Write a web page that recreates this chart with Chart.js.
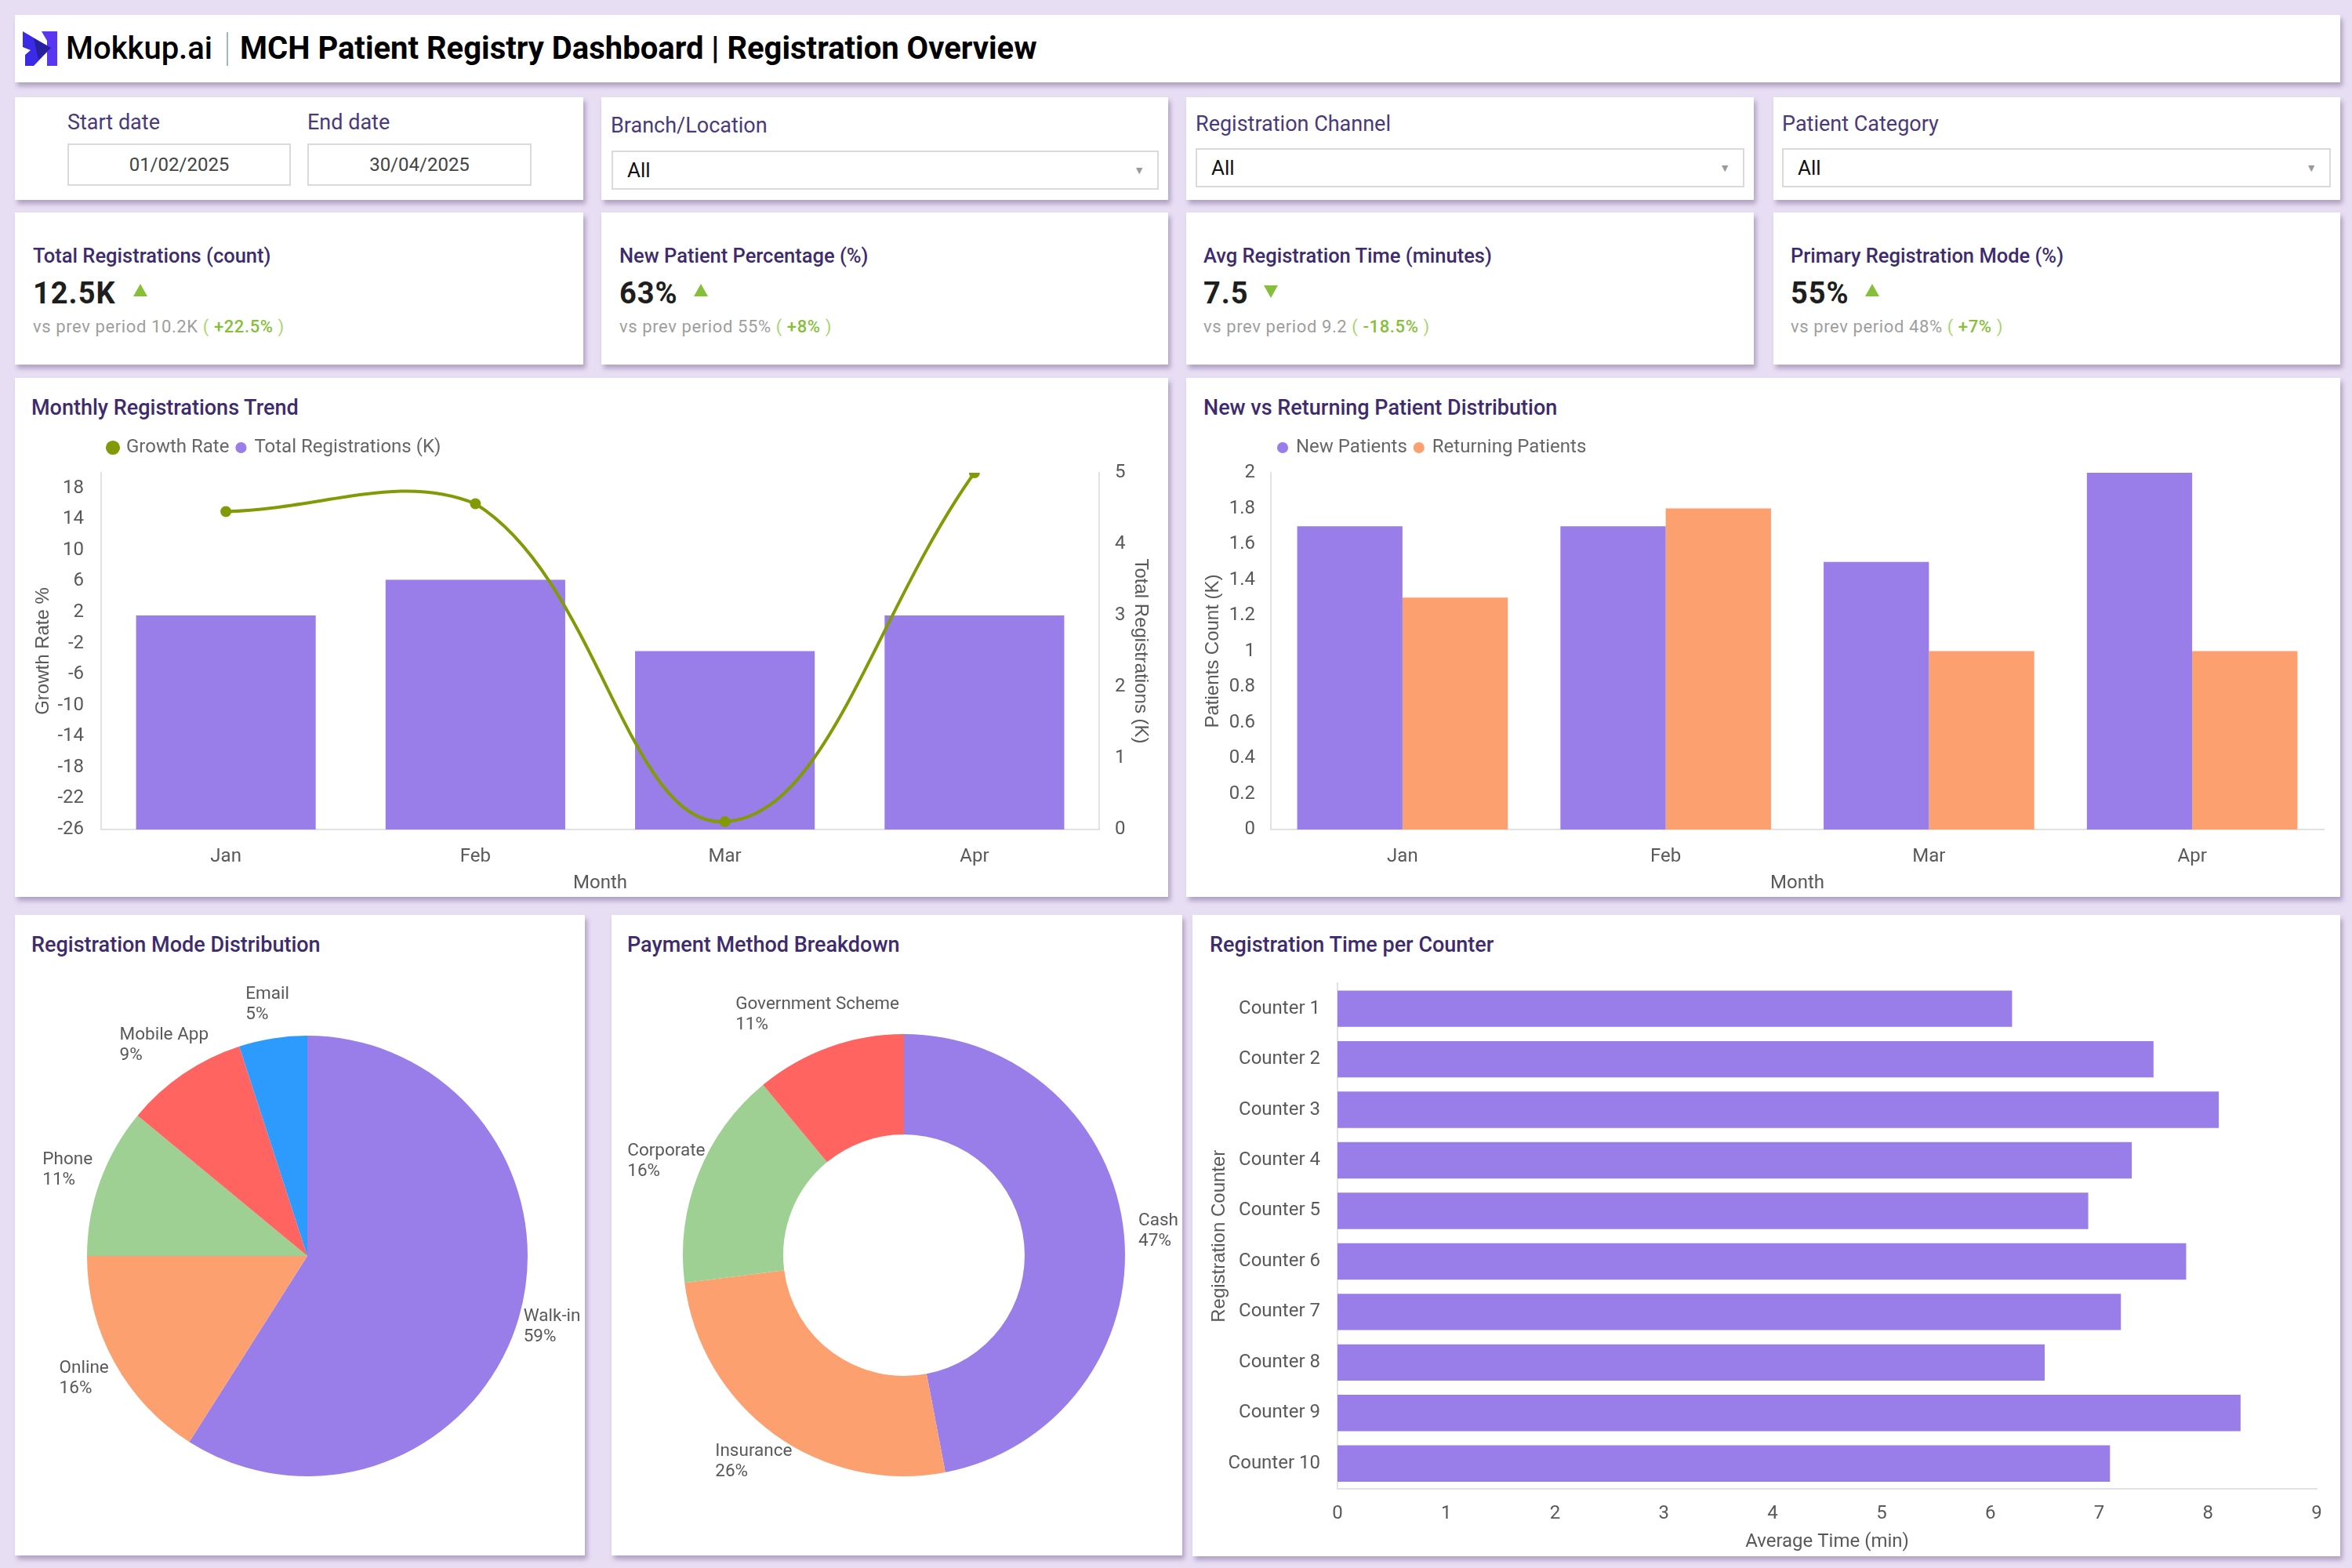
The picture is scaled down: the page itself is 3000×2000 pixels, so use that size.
<!DOCTYPE html>
<html>
<head>
<meta charset="utf-8">
<script src="https://cdn.jsdelivr.net/npm/chart.js@4.4.1/dist/chart.umd.min.js"></script>
<style>
  body { margin: 0; width: 3000px; height: 2000px; background: #E8DEF4; font-family: Roboto, sans-serif; position: relative; overflow: hidden; }
  .card { position: absolute; background: #fff; box-shadow: 3px 5px 6px rgba(70, 50, 100, 0.35); }
  .t { position: absolute; white-space: nowrap; line-height: 1.2; }
  .ttl { color: #3E2B6E; font-weight: 500; font-size: 27px; }
  .lbl { color: #4A3A7C; font-size: 27px; }
  .box { position: absolute; border: 2px solid #DADADA; box-sizing: border-box; background: #fff; }
  .date { color: #444; font-size: 24px; text-align: center; line-height: 50px; }
  .sel { color: #111; font-size: 26px; line-height: 46px; padding-left: 18px; }
  .caret { position: absolute; right: 16px; top: 0; color: #999; font-size: 14px; }
  .kttl { color: #3E2B6E; font-weight: 500; font-size: 25.5px; }
  .kval { color: #1E1E1E; font-weight: 700; font-size: 38px; letter-spacing: 1px; }
  .ksub { color: #9E9E9E; font-size: 22px; letter-spacing: 0.6px; }
  .ksub b { color: #86BF3A; font-weight: 500; }
  .ksub i { color: #A9D46E; font-style: normal; }
  canvas { position: absolute; }
</style>
</head>
<body>

<!-- header -->
<div class="card" style="left:19px;top:19px;width:2966px;height:86px;"></div>
<svg style="position:absolute;left:29px;top:40px;" width="46" height="44" viewBox="0 0 46 44">
  <polygon points="24,0 44,0 44,44 31,44 31,12" fill="#5B36F2"/>
  <polygon points="0,0 36,21 14,44 3,44 3,30 10,24 0,20" fill="#3B2AE6"/>
  <polygon points="14,9 36,21 20,36" fill="#27209E"/>
</svg>
<div class="t" style="left:84px;top:38px;font-size:40px;font-weight:500;color:#000;">Mokkup.ai</div>
<div style="position:absolute;left:289px;top:41px;width:2px;height:43px;background:#9FB8BE;"></div>
<div class="t" style="left:306px;top:38px;font-size:40px;font-weight:700;color:#000;">MCH Patient Registry Dashboard | Registration Overview</div>

<!-- filters -->
<div class="card" style="left:19px;top:124px;width:725px;height:131px;"></div>
<div class="t lbl" style="left:86px;top:140px;">Start date</div>
<div class="t lbl" style="left:392px;top:140px;">End date</div>
<div class="box date" style="left:86px;top:183px;width:285px;height:54px;">01/02/2025</div>
<div class="box date" style="left:392px;top:183px;width:286px;height:54px;">30/04/2025</div>

<div class="card" style="left:767px;top:124px;width:723px;height:131px;"></div>
<div class="t lbl" style="left:779px;top:144px;">Branch/Location</div>
<div class="box sel" style="left:780px;top:192px;width:698px;height:50px;">All<span class="caret">&#9660;</span></div>

<div class="card" style="left:1513px;top:124px;width:724px;height:131px;"></div>
<div class="t lbl" style="left:1525px;top:142px;">Registration Channel</div>
<div class="box sel" style="left:1525px;top:189px;width:700px;height:50px;">All<span class="caret">&#9660;</span></div>

<div class="card" style="left:2262px;top:124px;width:723px;height:131px;"></div>
<div class="t lbl" style="left:2273px;top:142px;">Patient Category</div>
<div class="box sel" style="left:2273px;top:189px;width:700px;height:50px;">All<span class="caret">&#9660;</span></div>

<!-- KPI cards -->
<div class="card" style="left:19px;top:271px;width:725px;height:194px;"></div>
<div class="t kttl" style="left:42px;top:311px;">Total Registrations (count)</div>
<div class="t kval" style="left:42px;top:352px;">12.5K</div>
<svg style="position:absolute;left:170px;top:362px;" width="18" height="16"><polygon points="9,0 18,16 0,16" fill="#86BF3A"/></svg>
<div class="t ksub" style="left:42px;top:404px;">vs prev period 10.2K <i>(</i> <b>+22.5%</b> <i>)</i></div>

<div class="card" style="left:767px;top:271px;width:723px;height:194px;"></div>
<div class="t kttl" style="left:790px;top:311px;">New Patient Percentage (%)</div>
<div class="t kval" style="left:790px;top:352px;">63%</div>
<svg style="position:absolute;left:885px;top:362px;" width="18" height="16"><polygon points="9,0 18,16 0,16" fill="#86BF3A"/></svg>
<div class="t ksub" style="left:790px;top:404px;">vs prev period 55% <i>(</i> <b>+8%</b> <i>)</i></div>

<div class="card" style="left:1513px;top:271px;width:724px;height:194px;"></div>
<div class="t kttl" style="left:1535px;top:311px;">Avg Registration Time (minutes)</div>
<div class="t kval" style="left:1535px;top:352px;">7.5</div>
<svg style="position:absolute;left:1612px;top:364px;" width="18" height="16"><polygon points="0,0 18,0 9,16" fill="#86BF3A"/></svg>
<div class="t ksub" style="left:1535px;top:404px;">vs prev period 9.2 <i>(</i> <b>-18.5%</b> <i>)</i></div>

<div class="card" style="left:2262px;top:271px;width:723px;height:194px;"></div>
<div class="t kttl" style="left:2284px;top:311px;">Primary Registration Mode (%)</div>
<div class="t kval" style="left:2284px;top:352px;">55%</div>
<svg style="position:absolute;left:2379px;top:362px;" width="18" height="16"><polygon points="9,0 18,16 0,16" fill="#86BF3A"/></svg>
<div class="t ksub" style="left:2284px;top:404px;">vs prev period 48% <i>(</i> <b>+7%</b> <i>)</i></div>

<!-- chart row 1 -->
<div class="card" style="left:19px;top:482px;width:1471px;height:662px;"></div>
<div class="t ttl" style="left:40px;top:504px;">Monthly Registrations Trend</div>
<canvas id="trend" width="1471" height="599" style="left:19px;top:545px;"></canvas>

<div class="card" style="left:1513px;top:482px;width:1472px;height:662px;"></div>
<div class="t ttl" style="left:1535px;top:504px;">New vs Returning Patient Distribution</div>
<canvas id="patients" width="1472" height="599" style="left:1513px;top:545px;"></canvas>

<!-- bottom row -->
<div class="card" style="left:19px;top:1167px;width:727px;height:817px;"></div>
<div class="t ttl" style="left:40px;top:1189px;">Registration Mode Distribution</div>
<canvas id="mode" width="727" height="764" style="left:19px;top:1220px;"></canvas>

<div class="card" style="left:780px;top:1167px;width:728px;height:817px;"></div>
<div class="t ttl" style="left:800px;top:1189px;">Payment Method Breakdown</div>
<canvas id="payment" width="728" height="764" style="left:780px;top:1220px;"></canvas>

<div class="card" style="left:1521px;top:1167px;width:1464px;height:818px;"></div>
<div class="t ttl" style="left:1543px;top:1189px;">Registration Time per Counter</div>
<canvas id="counter" width="1464" height="759" style="left:1521px;top:1226px;"></canvas>

<script>
// Data
const months = ["Jan", "Feb", "Mar", "Apr"];
const growthRate = [15, 16, -25, 20];
const totalRegistrations = [3, 3.5, 2.5, 3];
const growthTicks = [-26, -22, -18, -14, -10, -6, -2, 2, 6, 10, 14, 18];

const newPatients = [1.7, 1.7, 1.5, 2.0];
const returningPatients = [1.3, 1.8, 1.0, 1.0];

const modeLabels = ["Walk-in", "Online", "Phone", "Mobile App", "Email"];
const modeShares = [59, 16, 11, 9, 5];

const paymentLabels = ["Cash", "Insurance", "Corporate", "Government Scheme"];
const paymentShares = [47, 26, 16, 11];

const counters = ["Counter 1", "Counter 2", "Counter 3", "Counter 4", "Counter 5",
                  "Counter 6", "Counter 7", "Counter 8", "Counter 9", "Counter 10"];
const counterTimes = [6.2, 7.5, 8.1, 7.3, 6.9, 7.8, 7.2, 6.5, 8.3, 7.1];

// Colours
const PURPLE = "#997DE8";
const ORANGE = "#FBA06E";
const GREEN = "#9ED093";
const RED = "#FF6461";
const BLUE = "#2D9BFD";
const OLIVE = "#829A06";
const AXIS = "#E2E2E2";
const TICK = "#595959";

Chart.defaults.font.family = "Roboto";
Chart.defaults.font.size = 24;
Chart.defaults.color = TICK;
Chart.defaults.animation = false;
Chart.defaults.responsive = false;
Chart.defaults.plugins.tooltip.enabled = false;

const axisTitleFont = { family: "Liberation Sans", size: 24 };

// pushes the plot a bit further below the legend
const legendGap = {
    id: "legendGap",
    beforeInit(chart) {
        const fit = chart.legend.fit;
        chart.legend.fit = function () {
            fit.call(this);
            this.height += 10;
        };
    },
};

const legendLabels = {
    usePointStyle: true,
    pointStyle: "circle",
    boxWidth: 10,
    boxHeight: 10,
    padding: 10,
    color: "#666",
    font: { size: 24 },
};

// Monthly trend: growth line on left axis, registrations bars on right axis
new Chart(document.getElementById("trend"), {
    type: "bar",
    data: {
        labels: months,
        datasets: [
            {
                type: "line",
                label: "Growth Rate",
                data: growthRate,
                yAxisID: "y",
                borderColor: OLIVE,
                backgroundColor: OLIVE,
                borderWidth: 4,
                pointRadius: 5,
                pointHoverRadius: 5,
                tension: 0.4,
                order: 0,
            },
            {
                type: "bar",
                label: "Total Registrations (K)",
                data: totalRegistrations,
                yAxisID: "y1",
                backgroundColor: PURPLE,
                order: 1,
            },
        ],
    },
    options: {
        layout: { padding: { top: 4 } },
        plugins: {
            legend: { position: "top", align: "start", fullSize: false, labels: legendLabels },
        },
        scales: {
            x: {
                grid: { display: false },
                border: { color: AXIS, width: 2 },
                ticks: { padding: 13, color: TICK },
                title: { display: true, text: "Month", color: TICK, padding: { top: 0, bottom: 3 } },
                afterFit: (s) => { s.height = 86; },
            },
            y: {
                position: "left",
                min: -26,
                max: 20,
                afterBuildTicks: (axis) => { axis.ticks = growthTicks.map((value) => ({ value })); },
                grid: { display: false },
                border: { color: AXIS, width: 2 },
                ticks: { padding: 14, color: TICK },
                title: { display: true, text: "Growth Rate %", color: TICK, font: axisTitleFont, padding: { top: 22 } },
                afterFit: (s) => { s.width = 110; },
            },
            y1: {
                position: "right",
                min: 0,
                max: 5,
                grid: { display: false },
                border: { color: AXIS, width: 2 },
                ticks: { stepSize: 1, padding: 12, color: TICK },
                title: { display: true, text: "Total Registrations (K)", color: TICK, font: axisTitleFont, padding: { top: 21 } },
                afterFit: (s) => { s.width = 88; },
            },
        },
    },
    plugins: [legendGap],
});

// New vs returning grouped bars
new Chart(document.getElementById("patients"), {
    type: "bar",
    data: {
        labels: months,
        datasets: [
            { label: "New Patients", data: newPatients, backgroundColor: PURPLE, barPercentage: 1, categoryPercentage: 0.8 },
            { label: "Returning Patients", data: returningPatients, backgroundColor: ORANGE, barPercentage: 1, categoryPercentage: 0.8 },
        ],
    },
    options: {
        layout: { padding: { top: 4, right: 21 } },
        plugins: {
            legend: { position: "top", align: "start", fullSize: false, labels: legendLabels },
        },
        scales: {
            x: {
                grid: { display: false },
                border: { color: AXIS, width: 2 },
                ticks: { padding: 13, color: TICK },
                title: { display: true, text: "Month", color: TICK, padding: { top: 0, bottom: 3 } },
                afterFit: (s) => { s.height = 86; },
            },
            y: {
                min: 0,
                max: 2,
                grid: { display: false },
                border: { color: AXIS, width: 2 },
                ticks: { stepSize: 0.2, padding: 12, color: TICK, callback: (v) => String(+v.toFixed(1)) },
                title: { display: true, text: "Patients Count (K)", color: TICK, font: axisTitleFont, padding: { top: 20 } },
                afterFit: (s) => { s.width = 108; },
            },
        },
    },
    plugins: [legendGap],
});

// two-line "name / percent" labels outside each slice
const sliceLabels = {
    id: "sliceLabels",
    afterDatasetsDraw(chart) {
        const { ctx } = chart;
        const ds = chart.data.datasets[0];
        const total = ds.data.reduce((a, b) => a + b, 0);
        ctx.save();
        ctx.font = "22.5px Roboto";
        ctx.fillStyle = TICK;
        ctx.textBaseline = "middle";
        ctx.textAlign = "left";
        chart.getDatasetMeta(0).data.forEach((arc, i) => {
            const { x, y, startAngle, endAngle, outerRadius } =
                arc.getProps(["x", "y", "startAngle", "endAngle", "outerRadius"], true);
            const mid = (startAngle + endAngle) / 2;
            const ax = x + Math.cos(mid) * (outerRadius + 44);
            const ay = y + Math.sin(mid) * (outerRadius + 44);
            const name = chart.data.labels[i];
            const pct = Math.round((ds.data[i] / total) * 100) + "%";
            const w = Math.max(ctx.measureText(name).width, ctx.measureText(pct).width);
            ctx.fillText(name, ax - w / 2, ay - 13);
            ctx.fillText(pct, ax - w / 2, ay + 13);
        });
        ctx.restore();
    },
};

new Chart(document.getElementById("mode"), {
    type: "pie",
    data: {
        labels: modeLabels,
        datasets: [{
            data: modeShares,
            backgroundColor: [PURPLE, ORANGE, GREEN, RED, BLUE],
            borderWidth: 0,
            hoverOffset: 0,
        }],
    },
    options: {
        layout: { padding: { left: 92, right: 73, top: 101, bottom: 101 } },
        plugins: { legend: { display: false } },
    },
    plugins: [sliceLabels],
});

new Chart(document.getElementById("payment"), {
    type: "doughnut",
    data: {
        labels: paymentLabels,
        datasets: [{
            data: paymentShares,
            backgroundColor: [PURPLE, ORANGE, GREEN, RED],
            borderWidth: 0,
            hoverOffset: 0,
        }],
    },
    options: {
        cutout: "54.6%",
        layout: { padding: { left: 91, right: 73, top: 99, bottom: 101 } },
        plugins: { legend: { display: false } },
    },
    plugins: [sliceLabels],
});

// Horizontal bars per counter
new Chart(document.getElementById("counter"), {
    type: "bar",
    data: {
        labels: counters,
        datasets: [{ label: "Average Time (min)", data: counterTimes, backgroundColor: PURPLE }],
    },
    options: {
        indexAxis: "y",
        layout: { padding: { top: 0, right: 30 } },
        plugins: { legend: { display: false } },
        scales: {
            x: {
                min: 0,
                max: 9,
                grid: { display: false },
                border: { color: AXIS, width: 2 },
                ticks: { stepSize: 1, padding: 10, color: TICK },
                title: { display: true, text: "Average Time (min)", color: TICK, padding: { top: 0, bottom: 4 } },
                afterFit: (s) => { s.height = 86; },
            },
            y: {
                grid: { display: false },
                border: { color: AXIS, width: 2 },
                ticks: { padding: 14, color: TICK },
                title: { display: true, text: "Registration Counter", color: TICK, font: axisTitleFont, padding: { top: 20 } },
                afterFit: (s) => { s.width = 185; },
            },
        },
    },
});
</script>
</body>
</html>
